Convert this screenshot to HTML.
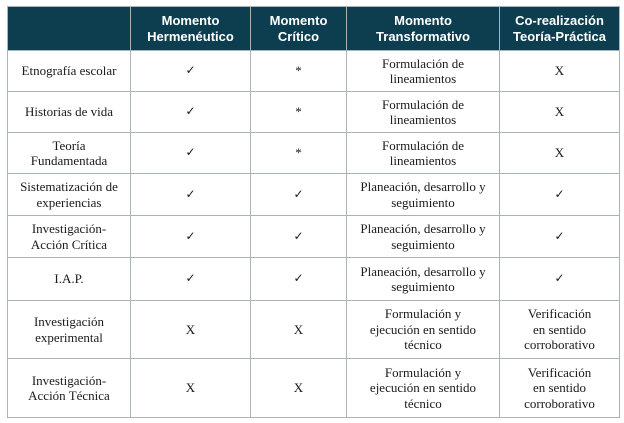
<!DOCTYPE html>
<html><head><meta charset="utf-8"><style>
html,body{margin:0;padding:0;background:#fff;width:624px;height:423px;overflow:hidden}
table{position:absolute;left:7px;top:6px;border-collapse:collapse;table-layout:fixed;font-family:"Liberation Serif",serif;font-size:13px;color:#1a1a1a}
td,th{border:1.5px solid #a8b4b8;text-align:center;vertical-align:middle;padding:0 2px;line-height:15.5px}
th{background:#0d3e50;color:#fff;font-family:"Liberation Sans",sans-serif;font-weight:bold;font-size:13px;line-height:16px;border-color:#a8b4b8}
.ck{font-family:"DejaVu Sans",sans-serif;font-size:12px}
</style></head><body>
<table>
<colgroup><col style="width:123px"><col style="width:120px"><col style="width:96px"><col style="width:153px"><col style="width:120px"></colgroup>
<tr style="height:44px"><th></th><th>Momento<br>Hermenéutico</th><th>Momento<br>Crítico</th><th>Momento<br>Transformativo</th><th>Co-realización<br>Teoría-Práctica</th></tr>
<tr style="height:41px"><td>Etnografía escolar</td><td class="ck">✓</td><td>*</td><td>Formulación de<br>lineamientos</td><td>X</td></tr>
<tr style="height:41px"><td>Historias de vida</td><td class="ck">✓</td><td>*</td><td>Formulación de<br>lineamientos</td><td>X</td></tr>
<tr style="height:41px"><td>Teoría<br>Fundamentada</td><td class="ck">✓</td><td>*</td><td>Formulación de<br>lineamientos</td><td>X</td></tr>
<tr style="height:42px"><td>Sistematización de<br>experiencias</td><td class="ck">✓</td><td class="ck">✓</td><td>Planeación, desarrollo y<br>seguimiento</td><td class="ck">✓</td></tr>
<tr style="height:42px"><td>Investigación-<br>Acción Crítica</td><td class="ck">✓</td><td class="ck">✓</td><td>Planeación, desarrollo y<br>seguimiento</td><td class="ck">✓</td></tr>
<tr style="height:43px"><td>I.A.P.</td><td class="ck">✓</td><td class="ck">✓</td><td>Planeación, desarrollo y<br>seguimiento</td><td class="ck">✓</td></tr>
<tr style="height:58px"><td>Investigación<br>experimental</td><td>X</td><td>X</td><td>Formulación y<br>ejecución en sentido<br>técnico</td><td>Verificación<br>en sentido<br>corroborativo</td></tr>
<tr style="height:59px"><td>Investigación-<br>Acción Técnica</td><td>X</td><td>X</td><td>Formulación y<br>ejecución en sentido<br>técnico</td><td>Verificación<br>en sentido<br>corroborativo</td></tr>
</table>
</body></html>
